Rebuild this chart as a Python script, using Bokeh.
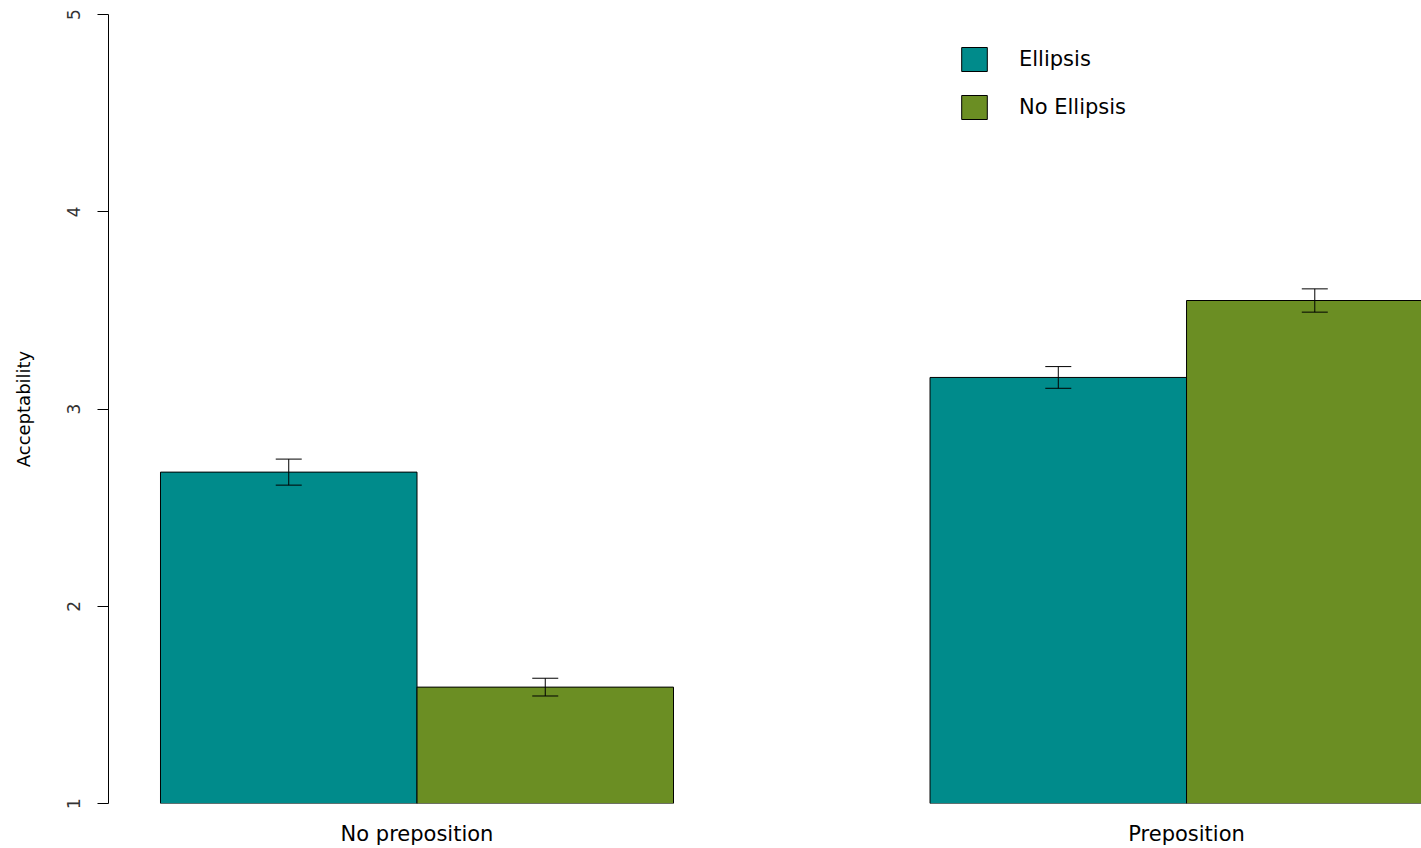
from bokeh.plotting import figure
from bokeh.models import (Range1d, FixedTicker, Legend, LegendItem, Whisker,
                          TeeHead, ColumnDataSource)
from bokeh.embed import file_html
from bokeh.resources import INLINE

# Mean acceptability ratings with standard errors
categories = ["No preposition", "Preposition"]
conditions = ["Ellipsis", "No Ellipsis"]
ellipsis_means = [2.68, 3.16]
no_ellipsis_means = [1.59, 3.55]
ellipsis_se = [0.066, 0.055]
no_ellipsis_se = [0.045, 0.059]
y_ticks = [1, 2, 3, 4, 5]
colors = ["#008B8B", "#6B8E23"]

FONT = "DejaVu Sans"

# barplot-style layout: bars of width 1, one unit of space between groups
bar_w = 1.0
group_gap = 1.0
n_cond = len(conditions)
group_starts = [1 + g * (n_cond * bar_w + group_gap) for g in range(len(categories))]
group_centers = [s + n_cond * bar_w / 2 for s in group_starts]

p = figure(width=1421, height=848, output_backend="svg", toolbar_location=None,
           x_range=Range1d(0.7973, 5.916), y_range=Range1d(1, 5),
           min_border_left=108, min_border_right=0, min_border_top=14,
           min_border_bottom=44)
p.outline_line_color = None
p.xgrid.visible = False
p.ygrid.visible = False
p.background_fill_color = "white"
p.border_fill_color = "white"

series = [(ellipsis_means, ellipsis_se), (no_ellipsis_means, no_ellipsis_se)]
legend_items = []
for i, (means, se) in enumerate(series):
    xs = [s + i * bar_w + bar_w / 2 for s in group_starts]
    src = ColumnDataSource(dict(
        x=xs, top=means,
        upper=[m + e for m, e in zip(means, se)],
        lower=[m - e for m, e in zip(means, se)],
    ))
    r = p.vbar(x="x", top="top", bottom=1, width=bar_w, source=src,
               fill_color=colors[i], line_color="black", line_width=1)
    legend_items.append(LegendItem(label=conditions[i], renderers=[r]))
    w = Whisker(base="x", upper="upper", lower="lower", source=src,
                dimension="height", line_color="black", line_width=1,
                upper_head=TeeHead(size=26, line_color="black", line_width=1),
                lower_head=TeeHead(size=26, line_color="black", line_width=1),
                level="overlay")
    p.add_layout(w)

# y axis
yax = p.yaxis[0]
yax.ticker = FixedTicker(ticks=y_ticks)
yax.major_tick_out = 11
yax.major_tick_in = 0
yax.minor_tick_out = 0
yax.minor_tick_in = 0
yax.major_label_orientation = "vertical"
yax.major_label_text_font = FONT
yax.major_label_text_font_size = "17px"
yax.major_label_text_color = "#333333"
yax.major_label_standoff = 18
yax.axis_label = "Acceptability"
yax.axis_label_text_font = FONT
yax.axis_label_text_font_size = "18px"
yax.axis_label_text_font_style = "normal"
yax.axis_label_text_color = "black"
yax.axis_label_standoff = 30
yax.axis_line_color = "black"
yax.major_tick_line_color = "black"

# x axis: group names only
xax = p.xaxis[0]
xax.ticker = FixedTicker(ticks=group_centers)
xax.major_label_overrides = {c: name for c, name in zip(group_centers, categories)}
xax.axis_label = None
xax.axis_label_standoff = 0
xax.axis_line_color = None
xax.major_tick_line_color = None
xax.major_tick_out = 0
xax.major_tick_in = 0
xax.minor_tick_line_color = None
xax.minor_tick_out = 0
xax.minor_tick_in = 0
xax.major_label_text_font = FONT
xax.major_label_text_font_size = "21px"
xax.major_label_text_color = "black"
xax.major_label_standoff = 18

legend = Legend(items=legend_items, location=(850, 681),
                glyph_width=32, glyph_height=30, label_height=30,
                label_standoff=29, spacing=18, padding=0, margin=0,
                border_line_alpha=0, background_fill_alpha=0,
                label_text_font=FONT, label_text_font_size="21px",
                label_text_color="black")
p.add_layout(legend)

open("out.html", "w").write(file_html(p, INLINE))
